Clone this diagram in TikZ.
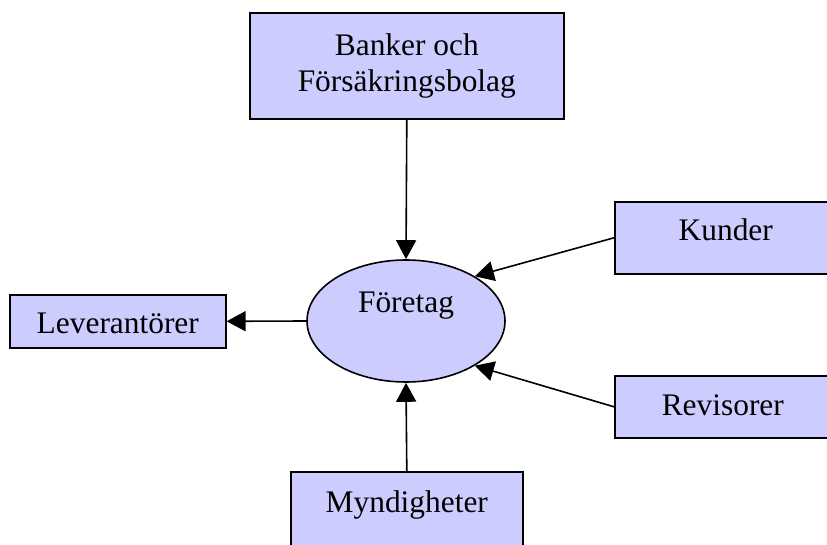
\documentclass[tikz,border=0pt]{standalone}
\usepackage{fontspec}
\setmainfont{Liberation Serif}
\usetikzlibrary{arrows.meta,shapes.geometric}
\definecolor{boxfill}{RGB}{204,204,255}
\begin{document}
\begin{tikzpicture}[x=1pt,y=1pt,
  every node/.style={font=\fontsize{31.4}{36}\selectfont},
  actor/.style={draw=black, fill=boxfill, line width=1.6pt, rectangle, inner sep=0pt, anchor=north west},
  core/.style={draw=black, fill=boxfill, line width=1.6pt, ellipse, inner sep=0pt,
    minimum width=198pt, minimum height=122pt, text height=20pt, text depth=36pt},
  flow/.style={line width=1.6pt, -{Triangle[length=19pt,width=20pt]}}]
\useasboundingbox (0,0) rectangle (827,544);
\clip (0,0) rectangle (827,544);
\node[actor, minimum width=314pt, minimum height=106pt, align=center] (bank) at (249,532)
  {Banker och\\Försäkringsbolag};
\node[core] (ftg) at (406,223) {Företag};
\node[actor, minimum width=222pt, text height=39pt, text depth=33pt] (kund) at (614,343) {Kunder};
\node[actor, minimum width=216pt, text height=40pt, text depth=22pt] (rev) at (614,169) {Revisorer};
\node[actor, minimum width=216pt, text height=39pt, text depth=14pt] (lev) at (9,250) {Leverantörer};
\node[actor, minimum width=232pt, text height=41pt, text depth=70pt] (myn) at (290,73) {Myndigheter};
\draw[flow] (bank.south) -- (ftg.north);
\draw[flow] (ftg.west) -- (lev.east);
\draw[flow] (kund.west) -- (ftg.33);
\draw[flow] (rev.west) -- (ftg.-33);
\draw[flow] (myn.north) -- (ftg.south);
\end{tikzpicture}
\end{document}
